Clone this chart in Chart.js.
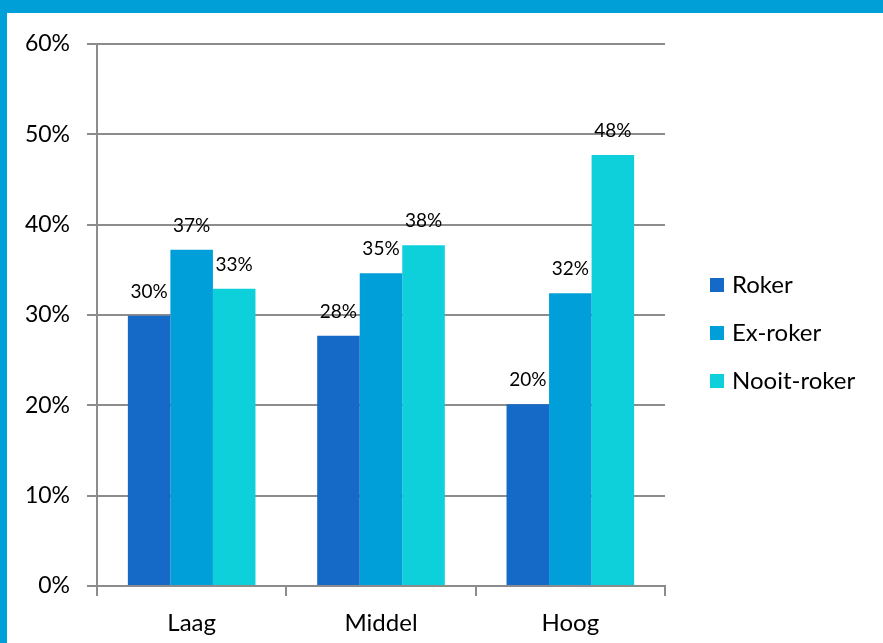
<!DOCTYPE html>
<html lang="nl">
<head>
<meta charset="UTF-8">
<title>Rookgedrag naar opleiding</title>
<script src="https://cdn.jsdelivr.net/npm/chart.js"></script>
<style>
    html, body { margin: 0; padding: 0; background: #fff; }
    .frame { width: 876px; height: 630px; border-top: 13px solid #019fd8; border-left: 7px solid #019fd8; background: #fff; }
    canvas { display: block; }
</style>
</head>
<body>
<div class="frame"><canvas id="chart" width="876" height="630"></canvas></div>
<script>
    // data
    const categories = ['Laag', 'Middel', 'Hoog'];
    const seriesNames = ['Roker', 'Ex-roker', 'Nooit-roker'];
    const roker = [29.9, 27.7, 20.1];
    const exRoker = [37.2, 34.6, 32.4];
    const nooitRoker = [32.9, 37.7, 47.7];
    const yTickMax = 60;
    const yTickStep = 10;

    const colors = ['#1569c7', '#009fda', '#0dd0da'];
    const gridColor = '#8c8c8c';
    const fontFamily = 'Lato, "Open Sans", sans-serif';

    // value labels above each bar
    const valueLabels = {
        id: 'valueLabels',
        afterDatasetsDraw(chart) {
            const ctx = chart.ctx;
            ctx.save();
            ctx.font = '19px ' + fontFamily;
            ctx.fillStyle = '#000';
            ctx.textAlign = 'center';
            ctx.textBaseline = 'middle';
            chart.data.datasets.forEach((ds, i) => {
                chart.getDatasetMeta(i).data.forEach((bar, j) => {
                    ctx.fillText(Math.round(ds.data[j]) + '%', bar.x, bar.y - 24);
                });
            });
            ctx.restore();
        }
    };

    // legend on the right, square + name
    const sideLegend = {
        id: 'sideLegend',
        afterDraw(chart) {
            const ctx = chart.ctx;
            ctx.save();
            ctx.font = '24px ' + fontFamily;
            ctx.textBaseline = 'middle';
            ctx.textAlign = 'left';
            chart.data.datasets.forEach((ds, i) => {
                const y = 272 + i * 48;
                ctx.fillStyle = ds.backgroundColor;
                ctx.fillRect(703, y - 7, 14, 14);
                ctx.fillStyle = '#000';
                ctx.fillText(ds.label, 725, y);
            });
            ctx.restore();
        }
    };

    const ctx = document.getElementById('chart').getContext('2d');
    new Chart(ctx, {
        type: 'bar',
        data: {
            labels: categories,
            datasets: [roker, exRoker, nooitRoker].map((d, i) => ({
                label: seriesNames[i],
                data: d,
                backgroundColor: colors[i],
                categoryPercentage: 0.674,
                barPercentage: 1.0
            }))
        },
        options: {
            responsive: false,
            animation: false,
            layout: { padding: { left: 0, top: 30, right: 218, bottom: 0 } },
            plugins: {
                legend: { display: false },
                tooltip: { enabled: false }
            },
            scales: {
                x: {
                    offset: true,
                    afterFit: s => { s.height = 57; },
                    grid: { display: true, drawOnChartArea: false, offset: true, tickLength: 10, color: gridColor, lineWidth: 2 },
                    border: { display: true, color: gridColor, width: 2 },
                    ticks: { color: '#000', padding: 13, font: { family: fontFamily, size: 24 } }
                },
                y: {
                    min: 0,
                    max: yTickMax,
                    afterFit: s => { s.width = 90; },
                    grid: { color: gridColor, lineWidth: 2, tickLength: 10 },
                    border: { display: true, color: gridColor, width: 2 },
                    ticks: {
                        stepSize: yTickStep,
                        color: '#000',
                        padding: 17,
                        font: { family: fontFamily, size: 23 },
                        callback: v => v + '%'
                    }
                }
            }
        },
        plugins: [valueLabels, sideLegend]
    });
</script>
</body>
</html>
